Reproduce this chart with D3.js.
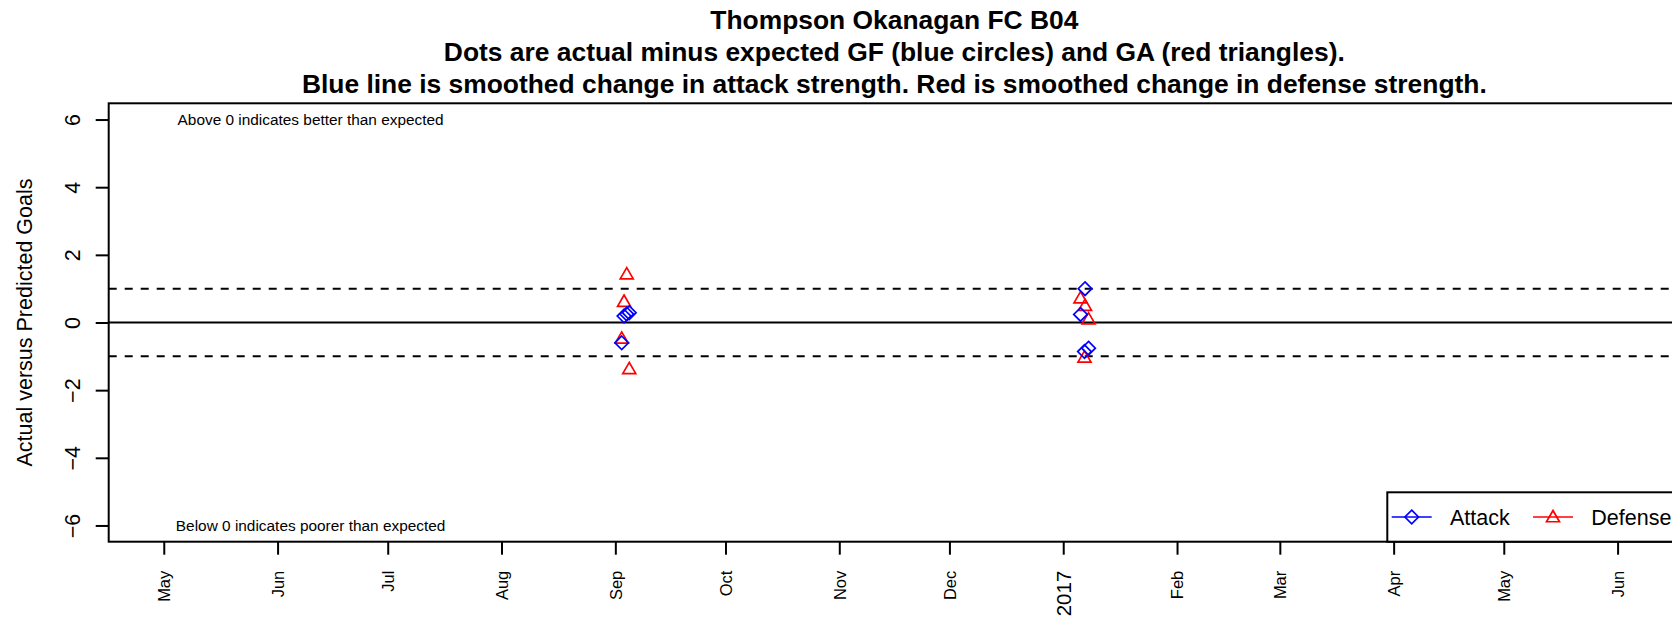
<!DOCTYPE html>
<html>
<head>
<meta charset="utf-8">
<script src="https://cdn.jsdelivr.net/npm/d3@7"></script>
<style>
  body { margin: 0; background: #fff; }
  svg { display: block; font-family: "Liberation Sans", Arial, sans-serif; }
</style>
</head>
<body>
<div id="chart-container"></div>
<script>
// game dates and actual-minus-expected values
const gameDates = ["2016-09-02T17:45", "2016-09-03T09:00", "2016-09-04T02:30", "2016-09-04T19:00",
                   "2017-01-05T17:00", "2017-01-06T22:30", "2017-01-06T19:00", "2017-01-07T21:30"];
const attackDiff = [-0.60, 0.19, 0.25, 0.29, 0.24, 1.00, -0.86, -0.76];
const defenseDiff = [-0.50, 0.59, 1.40, -1.40, 0.69, 0.47, -1.06, 0.07];

const yTicks = [-6, -4, -2, 0, 2, 4, 6];
const refLines = [-1, 1];
const titleLines = [
    "Thompson Okanagan FC B04",
    "Dots are actual minus expected GF (blue circles) and GA (red triangles).",
    "Blue line is smoothed change in attack strength. Red is smoothed change in defense strength."
];
const legendItems = ["Attack", "Defense"];
const legendColors = ["#0000ff", "#ff0000"];
const monthNames = ["Jan", "Feb", "Mar", "Apr", "May", "Jun", "Jul", "Aug", "Sep", "Oct", "Nov", "Dec"];
const noteDate = "2016-06-10";

const width = 1672, height = 617;
// plot region (right edge runs past the page)
const plot = { left: 108.7, right: 1680, top: 103.3, bottom: 541.7 };

const svg = d3.select("#chart-container")
    .append("svg")
    .attr("width", width)
    .attr("height", height);

const x = d3.scaleTime()
    .domain([new Date(2016, 3, 16), new Date(2017, 5, 18)])
    .range([plot.left, plot.right]);
const y = d3.scaleLinear()
    .domain([-6.48, 6.48])
    .range([plot.bottom, plot.top]);

const data = gameDates.map((d, i) => ({ date: new Date(d), att: attackDiff[i], def: defenseDiff[i] }));

// title
svg.append("g").selectAll("text")
    .data(titleLines)
    .join("text")
    .attr("x", (plot.left + plot.right) / 2)
    .attr("y", (d, i) => 28.8 + i * 32)
    .attr("text-anchor", "middle")
    .attr("font-weight", "bold")
    .attr("font-size", 26.4)
    .text(d => d);

// x axis: monthly ticks, January shows the year
const xAxis = svg.append("g")
    .attr("transform", `translate(0,${plot.bottom})`)
    .call(d3.axisBottom(x)
        .ticks(d3.timeMonth.every(1))
        .tickSize(13)
        .tickSizeOuter(0)
        .tickFormat(d => d.getMonth() === 0 ? d.getFullYear() : monthNames[d.getMonth()]));
xAxis.select(".domain").remove();
xAxis.selectAll("line").attr("stroke", "#000").attr("stroke-width", 2);
xAxis.selectAll("text")
    .attr("fill", "#000")
    .attr("font-family", null)
    .attr("font-size", d => d.getMonth() === 0 ? 20.5 : 16.5)
    .attr("text-anchor", "end")
    .attr("x", -29)
    .attr("y", 0)
    .attr("dy", "0.35em")
    .attr("transform", "rotate(-90)");

// y axis
const yAxis = svg.append("g")
    .attr("transform", `translate(${plot.left},0)`)
    .call(d3.axisLeft(y).tickValues(yTicks).tickSize(13));
yAxis.select(".domain").remove();
yAxis.selectAll("line").attr("stroke", "#000").attr("stroke-width", 2);
yAxis.selectAll("text")
    .attr("fill", "#000")
    .attr("font-family", null)
    .attr("font-size", 21.5)
    .attr("text-anchor", "middle")
    .attr("x", 0)
    .attr("dy", "0.35em")
    .attr("transform", "translate(-36,0) rotate(-90)");

// y axis label
svg.append("text")
    .attr("transform", `translate(24,${(plot.top + plot.bottom) / 2}) rotate(-90)`)
    .attr("text-anchor", "middle")
    .attr("dy", "0.35em")
    .attr("font-size", 21.5)
    .text("Actual versus Predicted Goals");

// reference lines
svg.append("line")
    .attr("x1", plot.left).attr("x2", plot.right)
    .attr("y1", y(0)).attr("y2", y(0))
    .attr("stroke", "#000").attr("stroke-width", 2);
svg.selectAll(".ref")
    .data(refLines)
    .join("line")
    .attr("class", "ref")
    .attr("x1", plot.left).attr("x2", plot.right)
    .attr("y1", d => y(d)).attr("y2", d => y(d))
    .attr("stroke", "#000").attr("stroke-width", 2)
    .attr("stroke-dasharray", "8,8");

// notes
svg.append("text")
    .attr("x", x(new Date(noteDate))).attr("y", y(6))
    .attr("dy", "0.35em").attr("text-anchor", "middle").attr("font-size", 15.4)
    .text("Above 0 indicates better than expected");
svg.append("text")
    .attr("x", x(new Date(noteDate))).attr("y", y(-6))
    .attr("dy", "0.35em").attr("text-anchor", "middle").attr("font-size", 15.4)
    .text("Below 0 indicates poorer than expected");

// point shapes like R pch 5 (diamond) and pch 2 (triangle)
function diamond(cx, cy) {
    const r = 6.8;
    return `M${cx},${cy - r}L${cx + r},${cy}L${cx},${cy + r}L${cx - r},${cy}Z`;
}
function triangle(cx, cy) {
    const r = 7.5, xc = 6.5, yc = 3.75;
    return `M${cx},${cy - r}L${cx + xc},${cy + yc}L${cx - xc},${cy + yc}Z`;
}

svg.append("g").selectAll("path")
    .data(data)
    .join("path")
    .attr("d", d => triangle(x(d.date), y(d.def)))
    .attr("fill", "none").attr("stroke", legendColors[1]).attr("stroke-width", 1.7);

svg.append("g").selectAll("path")
    .data(data)
    .join("path")
    .attr("d", d => diamond(x(d.date), y(d.att)))
    .attr("fill", "none").attr("stroke", legendColors[0]).attr("stroke-width", 1.7);

// plot box
svg.append("rect")
    .attr("x", plot.left).attr("y", plot.top)
    .attr("width", plot.right - plot.left).attr("height", plot.bottom - plot.top)
    .attr("fill", "none").attr("stroke", "#000").attr("stroke-width", 2);

// legend, bottom right
const legW = 292.7, legH = 49.4;
const leg = svg.append("g")
    .attr("transform", `translate(${plot.right - legW},${plot.bottom - legH})`);
leg.append("rect")
    .attr("width", legW).attr("height", legH)
    .attr("fill", "#fff").attr("stroke", "#000").attr("stroke-width", 2);
const item = leg.selectAll(".item")
    .data(legendItems)
    .join("g")
    .attr("class", "item")
    .attr("transform", (d, i) => `translate(${4.4 + i * 141.3},${legH / 2})`);
item.append("line")
    .attr("x1", 0).attr("x2", 40)
    .attr("stroke", (d, i) => legendColors[i]).attr("stroke-width", 1.7);
item.append("path")
    .attr("d", (d, i) => i === 0 ? diamond(20, 0) : triangle(20, 1))
    .attr("fill", "none")
    .attr("stroke", (d, i) => legendColors[i]).attr("stroke-width", 1.7);
item.append("text")
    .attr("x", 58.3)
    .attr("dy", "0.35em")
    .attr("font-size", 21.5)
    .text(d => d);
</script>
</body>
</html>
